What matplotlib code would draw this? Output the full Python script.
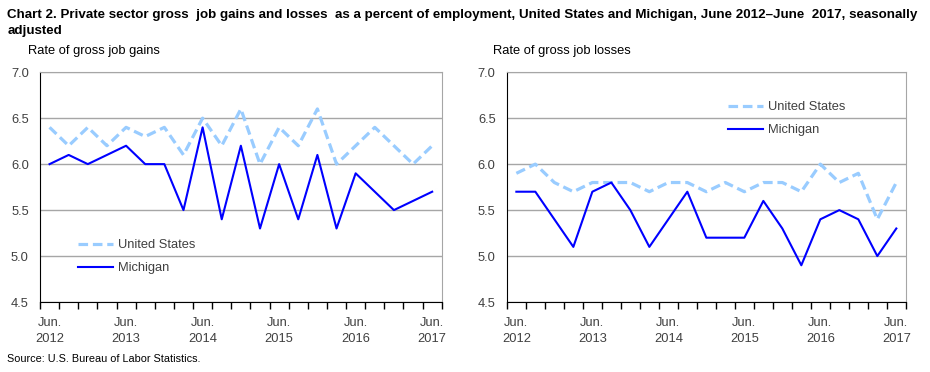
import numpy as np
import matplotlib
matplotlib.use("Agg")
import matplotlib.pyplot as plt

plt.rcParams['font.family'] = ['Liberation Sans', 'DejaVu Sans']

quarters = list(range(21))
tick_labels = ['Jun.\n2012', 'Jun.\n2013', 'Jun.\n2014', 'Jun.\n2015', 'Jun.\n2016', 'Jun.\n2017']

us_gains = [6.4, 6.2, 6.4, 6.2, 6.4, 6.3, 6.4, 6.1, 6.5, 6.2, 6.6,
            6.0, 6.4, 6.2, 6.6, 6.0, 6.2, 6.4, 6.2, 6.0, 6.2]
mi_gains = [6.0, 6.1, 6.0, 6.1, 6.2, 6.0, 6.0, 5.5, 6.4, 5.4, 6.2,
            5.3, 6.0, 5.4, 6.1, 5.3, 5.9, 5.7, 5.5, 5.6, 5.7]
us_losses = [5.9, 6.0, 5.8, 5.7, 5.8, 5.8, 5.8, 5.7, 5.8, 5.8, 5.7,
             5.8, 5.7, 5.8, 5.8, 5.7, 6.0, 5.8, 5.9, 5.4, 5.8]
mi_losses = [5.7, 5.7, 5.4, 5.1, 5.7, 5.8, 5.5, 5.1, 5.4, 5.7, 5.2,
             5.2, 5.2, 5.6, 5.3, 4.9, 5.4, 5.5, 5.4, 5.0, 5.3]

us_color = '#99CCFF'
mi_color = '#0000FF'
grid_color = '#A6A6A6'
text_color = '#404040'
fs = 9.3

fig = plt.figure(figsize=(9.3, 3.72), dpi=100)
ax1 = fig.add_axes([0.043, 0.188, 0.432, 0.618])
ax2 = fig.add_axes([0.545, 0.188, 0.429, 0.618])


def style_axes(ax, us, mi, legend_loc):
    ax.plot(quarters, us, color=us_color, lw=2.3, dashes=(3, 1.5), label='United States')
    ax.plot(quarters, mi, color=mi_color, lw=1.5, label='Michigan')
    ax.set_xlim(-0.5, 20.5)
    ax.set_ylim(4.5, 7.0)
    ax.set_yticks(np.arange(4.5, 7.01, 0.5))
    ax.set_yticklabels(['%.1f' % v for v in np.arange(4.5, 7.01, 0.5)])
    ax.yaxis.grid(True, color=grid_color, lw=1)
    ax.set_axisbelow(True)
    ax.tick_params(axis='y', length=0, pad=8, labelsize=fs, labelcolor=text_color)
    # boundaries as major ticks, labels on minor ticks
    ax.set_xticks(np.arange(-0.5, 20.6, 1))
    ax.set_xticklabels([])
    ax.set_xticks(range(0, 21, 4), minor=True)
    ax.set_xticklabels(tick_labels, minor=True, linespacing=1.45)
    ax.tick_params(axis='x', which='major', length=5, direction='out', color='black', width=1)
    ax.tick_params(axis='x', which='minor', length=0, pad=11, labelsize=fs, labelcolor=text_color)
    for s in ['top', 'right']:
        ax.spines[s].set_color(grid_color)
    for s in ['left', 'bottom']:
        ax.spines[s].set_color('black')
    leg = ax.legend(loc='lower left', bbox_to_anchor=legend_loc, frameon=False, fontsize=fs,
                    handlelength=2.7, handletextpad=0.4, labelspacing=0.85,
                    labelcolor=text_color, borderaxespad=0, borderpad=0)
    return leg


style_axes(ax1, us_gains, mi_gains, (0.095, 0.12))
style_axes(ax2, us_losses, mi_losses, (0.555, 0.722))

fig.text(0.008, 0.975, 'Chart 2. Private sector gross  job gains and losses  as a percent of employment, United States and Michigan, June 2012\u2013June  2017, seasonally\nadjusted',
         fontsize=9.6, fontweight='bold', va='top', ha='left', linespacing=1.4)
fig.text(0.03, 0.862, 'Rate of gross job gains', fontsize=fs, va='center', color='black')
fig.text(0.53, 0.862, 'Rate of gross job losses', fontsize=fs, va='center', color='black')
fig.text(0.008, 0.035, 'Source: U.S. Bureau of Labor Statistics.', fontsize=7.8, va='center')

fig.savefig('out.png', dpi=100)
